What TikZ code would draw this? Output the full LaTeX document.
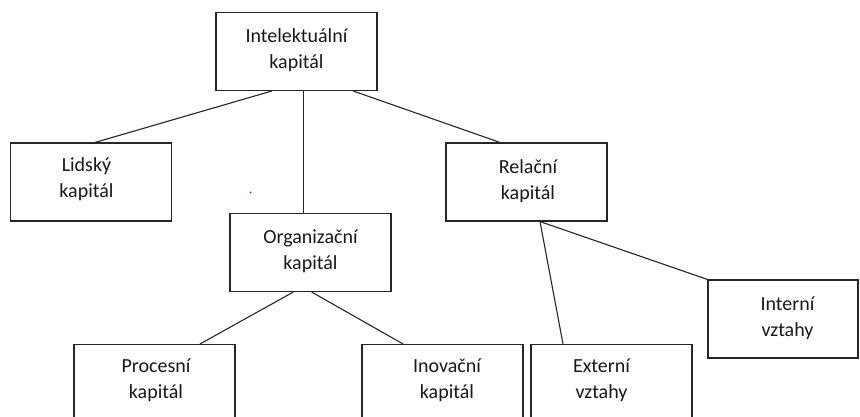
\documentclass[tikz,border=0pt]{standalone}
\usepackage{fontspec}
\setmainfont{Carlito}
\begin{document}
\begin{tikzpicture}[x=1pt,y=-1pt,
  box/.style={draw=black!85,line width=1.1pt,minimum width=161pt,minimum height=78pt,inner sep=0pt},
  txt/.style={align=center,font=\fontsize{20}{26}\selectfont,text=black!90,inner sep=0pt},
  conn/.style={draw=black!85,line width=1.1pt}]
\useasboundingbox (0,0) rectangle (860,417);
\fill[white] (0,0) rectangle (860,417);
% boxes
\node[box] (int) at (296.5,51.5) {};
\node[box] (lid) at (91,182) {};
\node[box] (rel) at (526.5,182) {};
\node[box] (org) at (310.5,252.5) {};
\node[box] (pro) at (154.5,383.5) {};
\node[box] (ino) at (442.5,383.5) {};
\node[box] (ext) at (611.5,383.5) {};
\node[box,minimum width=150pt] (inte) at (783,319) {};
% texts
\node[txt] (intT) at ([yshift=1]int.center) {Intelektuální\\kapitál};
\node[txt] (lidT) at ([xshift=-4.5,yshift=3]lid.center) {Lidský\\kapitál};
\node[txt] (relT) at ([xshift=1.5,yshift=1]rel.center) {Relační\\kapitál};
\node[txt] (orgT) at ([yshift=1]org.center) {Organizační\\kapitál};
\node[txt] (proT) at ([xshift=1.5,yshift=3]pro.center) {Procesní\\kapitál};
\node[txt] (inoT) at ([xshift=4.5,yshift=3]ino.center) {Inovační\\kapitál};
\node[txt] (extT) at ([xshift=-10,yshift=3]ext.center) {Externí\\vztahy};
\node[txt] (inteT) at ([xshift=4.5,yshift=1]inte.center) {Interní\\vztahy};
% connectors
\draw[conn] ([xshift=-24.8]int.south) -- ([xshift=4]lid.north);
\draw[conn] ([xshift=6.8]int.south) -- ([xshift=-7.2]org.north);
\draw[conn] ([xshift=56.8]int.south) -- ([xshift=-26.5]rel.north);
\draw[conn] ([xshift=-17.2]org.south) -- ([xshift=45.5]pro.north);
\draw[conn] ([xshift=1.2]org.south) -- ([xshift=-39.5]ino.north);
\draw[conn] ([xshift=13.5]rel.south) -- ([xshift=-48.5]ext.north);
\draw[conn] ([xshift=13.5]rel.south) -- (inte.north west);
% stray dot
\fill[blue!80] (250.5,192.5) circle (1pt);
\end{tikzpicture}
\end{document}
